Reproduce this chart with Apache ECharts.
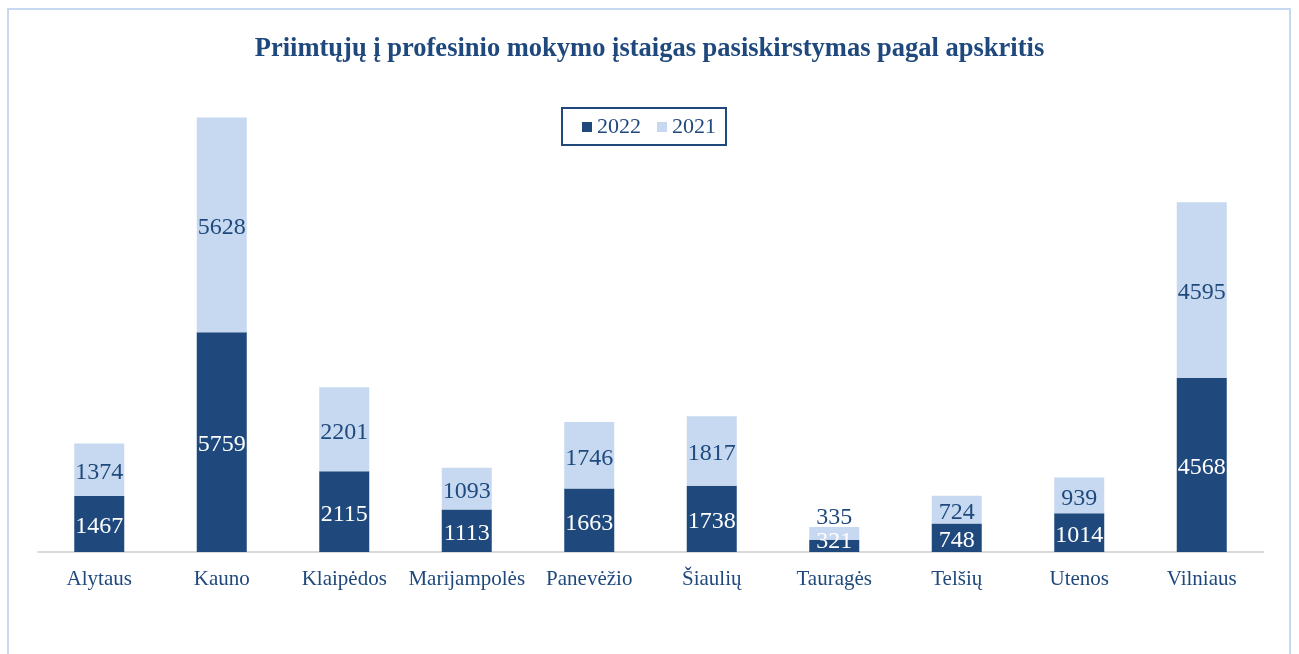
<!DOCTYPE html>
<html>
<head>
<meta charset="utf-8">
<script src="https://cdn.jsdelivr.net/npm/echarts@6/dist/echarts.min.js"></script>
<style>
  html, body { margin: 0; padding: 0; background: #fff; }
  #frame {
    position: absolute; left: 7px; top: 8px; width: 1284px; height: 700px;
    border: 2px solid #C6D9F0; box-sizing: border-box;
  }
  #chart { position: absolute; left: 0; top: 0; width: 1299px; height: 654px; }
</style>
</head>
<body>
<div id="frame"></div>
<div id="chart"></div>
<script>
const categories = ['Alytaus', 'Kauno', 'Klaipėdos', 'Marijampolės', 'Panevėžio', 'Šiaulių', 'Tauragės', 'Telšių', 'Utenos', 'Vilniaus']
const values2022 = [1467, 5759, 2115, 1113, 1663, 1738, 321, 748, 1014, 4568]
const values2021 = [1374, 5628, 2201, 1093, 1746, 1817, 335, 724, 939, 4595]

const dark = '#1F497D'
const light = '#C6D9F0'
const serif = '"Liberation Serif", "Times New Roman", serif'

const chart = echarts.init(document.getElementById('chart'))

// small segments: put the label above the bar instead of inside
const data2021 = values2021.map(v => v < 500
  ? { value: v, label: { position: 'top', distance: 0 } }
  : v)
const data2022 = values2022.map(v => v < 500
  ? { value: v, label: { offset: [0, -4] } }
  : v)

const option = {
  animation: false,
  title: {
    text: 'Priimtųjų į profesinio mokymo įstaigas pasiskirstymas pagal apskritis',
    left: 'center',
    top: 31,
    textStyle: { fontFamily: serif, fontSize: 26.5, fontWeight: 'bold', color: dark }
  },
  legend: {
    data: ['2022', '2021'],
    top: 108,
    left: 562,
    padding: [8, 10, 7, 20],
    borderColor: dark,
    borderWidth: 2,
    itemWidth: 10,
    itemHeight: 10,
    itemGap: 16,
    icon: 'rect',
    textStyle: { fontFamily: serif, fontSize: 22, color: dark }
  },
  grid: { left: 38, right: 36, top: 94, bottom: 102 },
  xAxis: {
    type: 'category',
    data: categories,
    axisLine: { lineStyle: { color: '#D9D9D9', width: 2 } },
    axisTick: { show: false },
    axisLabel: { interval: 0, fontFamily: serif, fontSize: 21, color: dark, margin: 17 }
  },
  yAxis: {
    type: 'value',
    min: 0,
    max: 12000,
    show: false,
    splitLine: { show: false }
  },
  series: [
    {
      name: '2022',
      type: 'bar',
      stack: 'total',
      barWidth: 50,
      data: data2022,
      itemStyle: { color: dark },
      label: { show: true, position: 'inside', offset: [0, 3], fontFamily: serif, fontSize: 24, color: '#fff' }
    },
    {
      name: '2021',
      type: 'bar',
      stack: 'total',
      barWidth: 50,
      data: data2021,
      itemStyle: { color: light },
      label: { show: true, position: 'inside', offset: [0, 3], fontFamily: serif, fontSize: 24, color: dark }
    }
  ]
}

chart.setOption(option)
</script>
</body>
</html>
